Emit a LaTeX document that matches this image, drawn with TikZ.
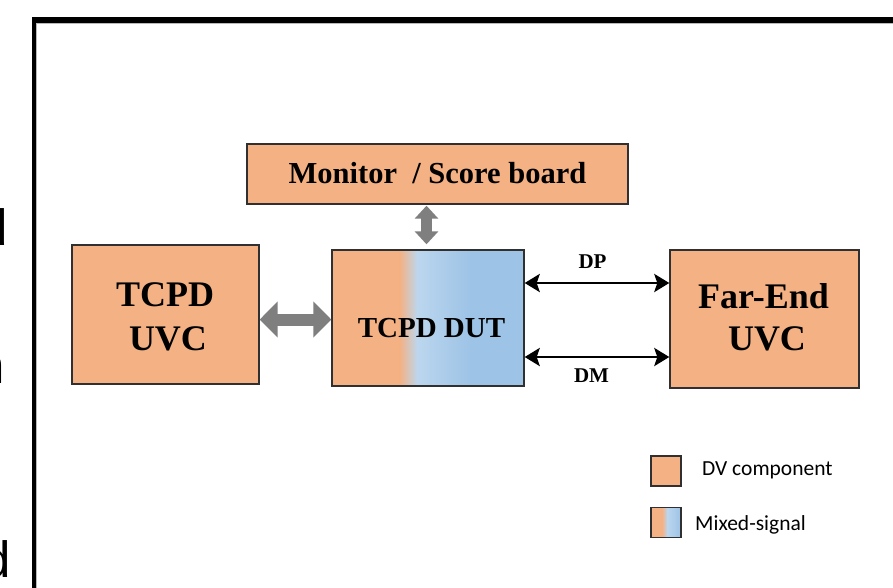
\documentclass[tikz,border=0pt]{standalone}
\usepackage{fontspec}
\setmainfont{Liberation Serif}
\newfontfamily\legendfont{Carlito}
\newfontfamily\edgefont{Liberation Sans}
\usetikzlibrary{arrows.meta}

\definecolor{dvorange}{HTML}{F4B183}
\definecolor{msblue}{HTML}{9DC3E6}
\definecolor{msbluelight}{HTML}{BCD6EE}
\definecolor{fatgray}{HTML}{7F7F7F}
\definecolor{boxline}{HTML}{303030}

\tikzset{
  box/.style={draw=boxline, line width=1.4pt, inner sep=0pt},
  bigtxt/.style={inner sep=0pt, anchor=base, font=\bfseries\fontsize{36}{42}\selectfont},
  midtxt/.style={inner sep=0pt, anchor=base, font=\bfseries\fontsize{29}{34}\selectfont},
  sigtxt/.style={inner sep=0pt, anchor=base, font=\bfseries\fontsize{21}{24}\selectfont},
  legtxt/.style={inner sep=0pt, anchor=base west, font=\legendfont\fontsize{21.5}{24}\selectfont},
  cuttxt/.style={inner sep=0pt, anchor=base east, font=\edgefont\fontsize{51}{60}\selectfont},
  sigline/.style={line width=2.8pt, {Stealth[length=15pt,width=18pt,inset=3pt]}-{Stealth[length=15pt,width=18pt,inset=3pt]}},
  fath/.style={fatgray, line width=12pt, {Triangle[length=18pt,width=35pt]}-{Triangle[length=18pt,width=35pt]}},
  fatv/.style={fatgray, line width=11pt, {Triangle[length=13pt,width=23pt]}-{Triangle[length=13pt,width=23pt]}},
}

\begin{document}
\begin{tikzpicture}[x=1pt,y=-1pt]
\useasboundingbox (0,0) rectangle (893,587);
\fill[white] (0,0) rectangle (893,587);

% letters cut off at the left edge
\node[cuttxt] (cutA) at (8.3,245) {d};
\node[cuttxt] (cutB) at (4.6,383) {n};
\node[cuttxt] (cutC) at (10.6,577) {d};

% outer frame
\draw[gray!55, line width=1.3pt] (36.8,600) -- (36.8,23.4) -- (900,23.4);
\draw[black, line width=5.6pt] (900,19.8) -- (33.8,19.8);
\draw[black, line width=4.2pt] (33.8,17) -- (33.8,600);

% mixed-signal fill of the DUT
\fill[dvorange] (332,250) rectangle (400,386);
\shade[left color=dvorange, right color=msbluelight] (399.5,250) rectangle (417.5,386);
\shade[left color=msbluelight, right color=msblue] (417,250) rectangle (470.5,386);
\fill[msblue] (470,250) rectangle (524,386);

% blocks
\node[box, fill=dvorange, minimum width=381pt, minimum height=60pt] (mon) at (437.5,174) {};
\node[box, fill=dvorange, minimum width=187pt, minimum height=139pt] (uvc) at (165.5,314.5) {};
\node[box, minimum width=192pt, minimum height=136pt] (dut) at (428,318) {};
\node[box, fill=dvorange, minimum width=189pt, minimum height=138pt] (far) at (764.5,319) {};

% block labels
\node[midtxt, font=\bfseries\fontsize{30.5}{34}\selectfont] (monT) at (437.5,183) {Monitor~ / Score board};
\node[bigtxt] (uvcA) at (165,306) {TCPD};
\node[bigtxt] (uvcB) at (168,350) {UVC};
\node[midtxt] (dutT) at (431.5,337) {TCPD DUT};
\node[bigtxt] (farA) at (763.5,308) {Far-End};
\node[bigtxt] (farB) at (767,350) {UVC};

% grey bus arrows
\draw[fath] ([yshift=-5pt]uvc.east) -- ([yshift=-5pt]uvc.east -| dut.west);
\draw[fatv] ([xshift=-1.5pt,yshift=5pt]dut.north) -- ([xshift=-1.5pt,yshift=-1pt]dut.north |- mon.south);

% DP / DM signal lines
\draw[sigline] ([yshift=35pt]dut.east) -- ([yshift=35pt]dut.east -| far.west);
\draw[sigline] ([yshift=-39pt]dut.east) -- ([yshift=-39pt]dut.east -| far.west);
\node[sigtxt] (dpT) at (592.5,268) {DP};
\node[sigtxt] (dmT) at (591.5,382) {DM};

% legend
\node[box, fill=dvorange, minimum width=30pt, minimum height=30pt] (legA) at (666,471) {};
\fill[dvorange] (651,507.5) rectangle (662.5,537.5);
\shade[left color=dvorange, right color=msbluelight] (662,507.5) rectangle (667.5,537.5);
\shade[left color=msbluelight, right color=msblue] (667,507.5) rectangle (681,537.5);
\node[box, minimum width=30pt, minimum height=30pt] (legB) at (666,522.5) {};
\node[legtxt] (legAT) at (702,475) {DV component};
\node[legtxt] (legBT) at (695,530) {Mixed-signal};
\end{tikzpicture}
\end{document}
